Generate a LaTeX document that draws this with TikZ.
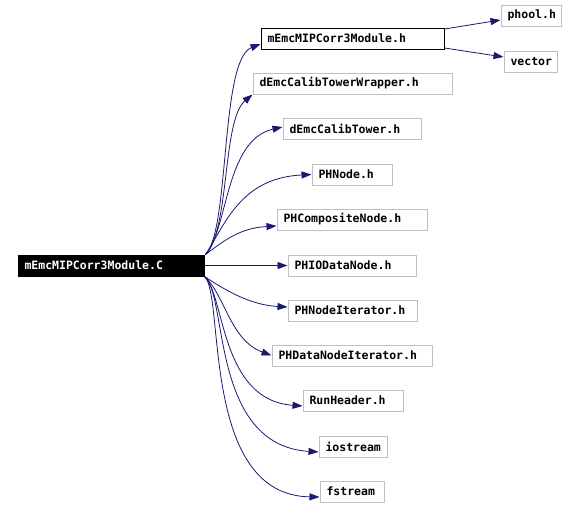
\documentclass[tikz,border=0pt]{standalone}
\usepackage{fontspec}
\setmonofont{DejaVu Sans Mono}
\usetikzlibrary{arrows.meta}
\definecolor{edgec}{HTML}{191970}
\definecolor{boxc}{HTML}{BFBFBF}
\tikzset{
  filebox/.style args={#1}{draw=boxc, line width=1pt, fill=white, minimum height=21pt,
    inner xsep=6.5pt, inner ysep=0pt, text width=#1pt-13pt, align=left,
    font=\fontsize{11.5}{12}\selectfont\ttfamily\bfseries},
  dep/.style={draw=edgec, line width=0.8pt, -{Triangle[length=10pt,width=7pt]}},
}
\begin{document}
\begin{tikzpicture}[x=1pt,y=-1pt]
\useasboundingbox (0,0) rectangle (577,509);
% main node
\node[filebox=186, fill=black, draw=black, text=white] (main) at (111,265.5) {mEmcMIPCorr3Module.C};
\node[filebox=183, draw=black] (h) at (352.5,38.5) {mEmcMIPCorr3Module.h};
\node[filebox=60] (phool) at (531,15.5) {phool.h};
\node[filebox=53] (vector) at (530.5,61.5) {vector};
\node[filebox=199] (wrap) at (352.5,83.5) {dEmcCalibTowerWrapper.h};
\node[filebox=138] (tower) at (352,129) {dEmcCalibTower.h};
\node[filebox=80] (phnode) at (352,174.5) {PHNode.h};
\node[filebox=150] (phcomp) at (352,219.5) {PHCompositeNode.h};
\node[filebox=128] (phio) at (352,265.5) {PHIODataNode.h};
\node[filebox=129] (phiter) at (352.5,310.5) {PHNodeIterator.h};
\node[filebox=160] (phditer) at (352,355.5) {PHDataNodeIterator.h};
\node[filebox=100] (runh) at (353,400.5) {RunHeader.h};
\node[filebox=68] (ios) at (353,446.5) {iostream};
\node[filebox=64] (fst) at (352,491.5) {fstream};
% edges
\draw[dep] ([xshift=1pt]main.north east) .. controls (230,230) and (220,60) .. ([yshift=-5.5pt]h.west);
\draw[dep] ([xshift=1pt]main.north east) .. controls (230,230) and (222,120) .. (wrap.south west);
\draw[dep] ([xshift=1pt]main.north east) .. controls (228,230) and (225,140) .. ([yshift=2pt]tower.west);
\draw[dep] ([xshift=1pt]main.north east) .. controls (225,225) and (240,178) .. (phnode.west);
\draw[dep] ([xshift=1pt]main.north east) .. controls (225,240) and (240,228) .. ([yshift=-6.5pt]phcomp.west);
\draw[dep] (main.east) -- (phio.west);
\draw[dep] (main.south east) .. controls (225,290) and (250,305) .. ([yshift=3.5pt]phiter.west);
\draw[dep] (main.south east) .. controls (225,295) and (230,340) .. (phditer.west);
\draw[dep] (main.south east) .. controls (225,295) and (220,400) .. ([yshift=-5.5pt]runh.west);
\draw[dep] (main.south east) .. controls (228,295) and (210,445) .. ([yshift=-5.5pt]ios.west);
\draw[dep] (main.south east) .. controls (225,295) and (200,495) .. ([yshift=-5.5pt]fst.west);
\draw[dep] ([yshift=9.5pt]h.east) -- ([yshift=-4.5pt]phool.west);
\draw[dep] ([yshift=-9.5pt]h.east) -- ([yshift=4.5pt]vector.west);
\end{tikzpicture}
\end{document}
